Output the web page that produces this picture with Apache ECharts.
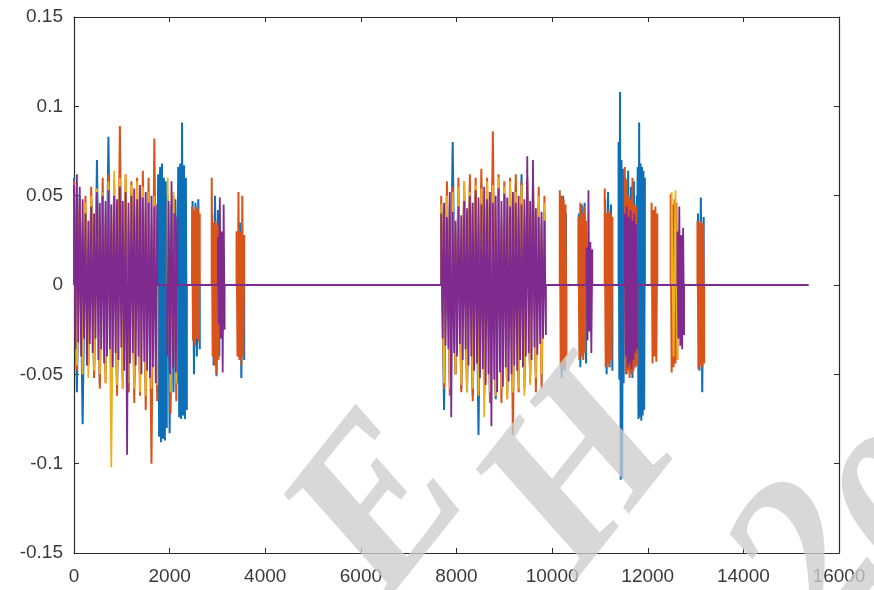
<!DOCTYPE html>
<html>
<head>
<meta charset="utf-8">
<script src="https://cdn.jsdelivr.net/npm/echarts@6/dist/echarts.min.js"></script>
<style>
html,body{margin:0;padding:0;background:#fff;}
#chart{width:874px;height:590px;}
</style>
</head>
<body>
<div id="chart"></div>
<script>
// ---- data (sample index bursts: [startSample, sampleStep, values]) ----
const totalSamples = 15360;
const xTicks = [0, 2000, 4000, 6000, 8000, 10000, 12000, 14000, 16000];
const yTicks = [-0.15, -0.1, -0.05, 0, 0.05, 0.1, 0.15];
const seriesNames = ['signal 1', 'signal 2', 'signal 3', 'signal 4'];
const watermarkChars = ['E', 'H', '2', '0'];

const blueBursts = [
  [0, 60, [0.060,-0.060,0.050,-0.078,0.040,-0.045,0.048,-0.050,0.070,-0.055,0.052,-0.048,0.083,-0.050,0.045,-0.058,0.050,-0.052,0.046,-0.060,0.052,-0.055,0.048,-0.050,0.050,-0.055,0.052,-0.050,0.048,-0.060]],
  [1760, 20, [0.062,-0.085,0.066,-0.088,0.068,-0.086,0.060,-0.087,0.058,-0.080]],
  [1960, 40, [0.050,-0.083,0.045,-0.060,0.048,-0.055]],
  [2180, 20, [0.066,-0.074,0.068,-0.075,0.091,-0.073,0.067,-0.075,0.060,-0.070]],
  [2480, 30, [0.047,-0.050,0.046,-0.040,0.048,-0.036]],
  [2890, 30, [0.040,-0.045,0.050,-0.051,0.042,-0.040]],
  [3410, 30, [0.030,-0.040,0.035,-0.052,0.028,-0.042]],
  [7680, 60, [0.045,-0.070,0.050,-0.055,0.080,-0.050,0.048,-0.058,0.052,-0.060,0.055,-0.062,0.050,-0.084,0.056,-0.060,0.052,-0.062,0.058,-0.064,0.055,-0.058,0.050,-0.060,0.053,-0.056,0.056,-0.055,0.062,-0.052,0.050,-0.050,0.048,-0.048,0.045,-0.040,0.040]],
  [10170, 30, [0.045,-0.052,0.050,-0.048,0.040]],
  [10560, 30, [0.040,-0.046,0.045,-0.040,0.046,-0.044]],
  [11110, 30, [0.048,-0.050,0.052,-0.046,0.045,-0.048]],
  [11390, 15, [0.080,-0.053,0.108,-0.109,0.070,-0.108,0.065,-0.055,0.060]],
  [11530, 30, [0.060,-0.050,0.064,-0.048,0.055,-0.052,0.058,-0.046,0.050]],
  [11790, 15, [0.066,-0.075,0.091,-0.074,0.068,-0.076,0.066,-0.073,0.064,-0.070,0.060]],
  [13050, 30, [0.040,-0.048,0.049,-0.060,0.038]]
];

const orangeBursts = [
  [0, 60, [0.058,-0.048,0.045,-0.050,0.050,-0.045,0.055,-0.052,0.050,-0.058,0.060,-0.055,0.062,-0.060,0.058,-0.062,0.089,-0.058,0.062,-0.060,0.058,-0.066,0.060,-0.062,0.064,-0.070,0.060,-0.100,0.082,-0.065]],
  [1960, 60, [0.045,-0.072,0.050,-0.065]],
  [2470, 20, [0.044,-0.031,0.042,-0.034,0.044,-0.030,0.043,-0.032,0.040]],
  [2880, 20, [0.060,-0.040,0.035,-0.045,0.036,-0.050,0.034,-0.042,0.032]],
  [3400, 20, [0.030,-0.040,0.052,-0.042,0.030,-0.045,0.050,-0.040,0.028]],
  [7680, 60, [0.050,-0.058,0.058,-0.062,0.055,-0.050,0.060,-0.060,0.058,-0.055,0.062,-0.065,0.060,-0.060,0.065,-0.062,0.060,-0.066,0.086,-0.062,0.062,-0.066,0.058,-0.064,0.060,-0.084,0.062,-0.060,0.058,-0.058,0.060,-0.055,0.058,-0.060,0.055,-0.058,0.050]],
  [10160, 20, [0.053,-0.046,0.050,-0.044,0.048,-0.046,0.045,-0.040]],
  [10550, 20, [0.038,-0.042,0.046,-0.040,0.040,-0.042,0.044,-0.038,0.036]],
  [11100, 20, [0.054,-0.046,0.040,-0.044,0.042,-0.046,0.040,-0.042,0.038]],
  [11520, 20, [0.066,-0.050,0.059,-0.048,0.050,-0.052,0.048,-0.050,0.060,-0.048,0.045,-0.046,0.044,-0.045]],
  [12080, 20, [0.046,-0.044,0.042,-0.040,0.044,-0.043,0.040]],
  [12480, 20, [0.051,-0.049,0.045,-0.046,0.048,-0.044,0.046,-0.042]],
  [13040, 20, [0.036,-0.047,0.035,-0.045,0.036,-0.046,0.034,-0.044]]
];

const yellowBursts = [
  [0, 60, [0.050,-0.045,0.048,-0.050,0.046,-0.052,0.050,-0.048,0.054,-0.050,0.052,-0.055,0.058,-0.102,0.064,-0.056,0.060,-0.058,0.062,-0.055,0.056,-0.058,0.058,-0.060,0.055,-0.062,0.052,-0.058,0.050,-0.056]],
  [1960, 60, [0.060,-0.060,0.052,-0.055]],
  [7680, 60, [0.045,-0.055,0.050,-0.058,0.052,-0.050,0.055,-0.056,0.058,-0.060,0.052,-0.058,0.056,-0.062,0.054,-0.074,0.058,-0.060,0.056,-0.062,0.060,-0.058,0.055,-0.064,0.058,-0.060,0.052,-0.058,0.056,-0.062,0.054,-0.056,0.055,-0.052,0.050,-0.050,0.046]],
  [12500, 40, [0.052,-0.040,0.053,-0.042]]
];

const purpleBursts = [
  [0, 30, [0.056,-0.036,0.062,-0.032,0.055,-0.040,0.048,-0.030,0.040,-0.045,0.036,-0.033,0.044,-0.038,0.040,-0.030,0.052,-0.042,0.046,-0.036,0.050,-0.044,0.047,-0.040,0.053,-0.036,0.045,-0.046,0.050,-0.038,0.048,-0.042,0.055,-0.035,0.047,-0.048,0.052,-0.095,0.046,-0.044,0.050,-0.038,0.054,-0.045,0.048,-0.040,0.056,-0.050,0.049,-0.043,0.052,-0.048,0.046,-0.052,0.050,-0.046,0.044,-0.055,0.045]],
  [1950, 30, [-0.040,0.047,-0.050,0.058,-0.046,0.040,-0.049,0.038]],
  [3010, 20, [0.027,-0.022,0.049,-0.030,0.030,-0.049,0.045,-0.025]],
  [7680, 30, [0.040,-0.030,0.046,-0.034,0.038,-0.036,0.052,-0.074,0.041,-0.038,0.036,-0.040,0.044,-0.033,0.039,-0.042,0.047,-0.036,0.043,-0.045,0.050,-0.040,0.046,-0.048,0.053,-0.044,0.049,-0.052,0.045,-0.047,0.055,-0.056,0.048,-0.050,0.052,-0.079,0.046,-0.053,0.050,-0.060,0.054,-0.049,0.047,-0.057,0.051,-0.046,0.049,-0.054,0.044,-0.050,0.052,-0.045,0.046,-0.048,0.050,-0.042,0.045,-0.046,0.048,-0.040,0.072,-0.038,0.047,-0.042,0.070,-0.035,0.043,-0.039,0.038,-0.033,0.041,-0.030,0.036,-0.028]],
  [10720, 20, [0.021,-0.031,0.053,-0.026,0.024,-0.038,0.020]],
  [11520, 20, [0.040,-0.040,0.044,-0.046,0.038,-0.044,0.042,-0.047,0.036,-0.042,0.040,-0.038,0.034,-0.036]],
  [12620, 20, [0.030,-0.030,0.044,-0.034,0.028,-0.036,0.032,-0.028]]
];

const seriesColors = ['#0d6fb8', '#d9541a', '#edb120', '#7e2a8e'];

// ---- build line data from bursts ----
function build(bursts) {
  const pts = [[0, 0]];
  bursts.forEach(function (b) {
    const s = b[0], st = b[1], vals = b[2];
    pts.push([s, 0]);
    vals.forEach(function (v, i) { pts.push([s + i * st, v]); });
    pts.push([s + (vals.length - 1) * st, 0]);
  });
  pts.push([totalSamples, 0]);
  return pts;
}

const allBursts = [blueBursts, orangeBursts, yellowBursts, purpleBursts];
const lineWidths = [2.0, 2.0, 1.8, 1.8];

const chart = echarts.init(document.getElementById('chart'), null, {renderer: 'canvas'});
const axisColor = '#2b2b2b';
const labelStyle = {color: '#3a3a3a', fontSize: 19, fontFamily: 'Liberation Sans, Arial, sans-serif'};
const plainFmt = function (v) { return String(Math.round(v * 1000) / 1000); };

// watermark glyph placement (layout only)
const wmPos = [[385, 510], [585, 475], [815, 565], [915, 520]];
const wmStyle = {fill: 'rgba(205,205,205,0.78)', font: 'italic bold 225px "Liberation Serif", serif', align: 'center', verticalAlign: 'middle'};

const option = {
  animation: false,
  backgroundColor: '#ffffff',
  grid: {left: 74, right: 35, top: 17, bottom: 37, containLabel: false},
  xAxis: [
    {type: 'value', min: xTicks[0], max: xTicks[xTicks.length - 1], interval: 2000, position: 'bottom',
     axisLine: {show: true, onZero: false, lineStyle: {color: axisColor, width: 1.2}},
     axisTick: {show: true, inside: true, length: 5, lineStyle: {color: axisColor}},
     axisLabel: Object.assign({margin: 14, formatter: plainFmt}, labelStyle),
     splitLine: {show: false}},
    {type: 'value', min: xTicks[0], max: xTicks[xTicks.length - 1], interval: 2000, position: 'top',
     axisLine: {show: true, onZero: false, lineStyle: {color: axisColor, width: 1.2}},
     axisTick: {show: true, inside: true, length: 5, lineStyle: {color: axisColor}},
     axisLabel: {show: false}, splitLine: {show: false}}
  ],
  yAxis: [
    {type: 'value', min: yTicks[0], max: yTicks[yTicks.length - 1], interval: 0.05, position: 'left',
     axisLine: {show: true, onZero: false, lineStyle: {color: axisColor, width: 1.2}},
     axisTick: {show: true, inside: true, length: 5, lineStyle: {color: axisColor}},
     axisLabel: Object.assign({margin: 11, formatter: plainFmt}, labelStyle),
     splitLine: {show: false}},
    {type: 'value', min: yTicks[0], max: yTicks[yTicks.length - 1], interval: 0.05, position: 'right',
     axisLine: {show: true, onZero: false, lineStyle: {color: axisColor, width: 1.2}},
     axisTick: {show: true, inside: true, length: 5, lineStyle: {color: axisColor}},
     axisLabel: {show: false}, splitLine: {show: false}}
  ],
  series: allBursts.map(function (b, k) {
    return {
      name: seriesNames[k], type: 'line', xAxisIndex: 0, yAxisIndex: 0,
      data: build(b), showSymbol: false, symbol: 'none', silent: true,
      lineStyle: {color: seriesColors[k], width: lineWidths[k]},
      areaStyle: {color: seriesColors[k], opacity: 1, origin: 0},
      z: 2 + k
    };
  }),
  graphic: watermarkChars.map(function (ch, i) {
    return {type: 'text', z: 100, x: wmPos[i][0], y: wmPos[i][1], rotation: 0.9, silent: true,
            style: Object.assign({text: ch}, wmStyle)};
  })
};
chart.setOption(option);
</script>
</body>
</html>
